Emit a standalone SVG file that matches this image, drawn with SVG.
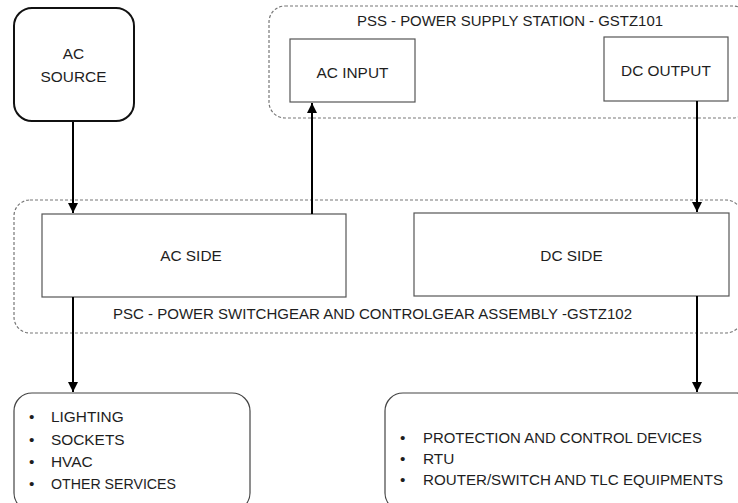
<svg xmlns="http://www.w3.org/2000/svg" width="738" height="503" viewBox="0 0 738 503">
<style>
text{font-family:"Liberation Sans",Arial,sans-serif;font-size:15.4px;fill:#1e1e1e}
.c{text-anchor:middle}
.box{fill:#fff;stroke:#555;stroke-width:1.2}
.cont{fill:none;stroke:#777;stroke-width:1.2;stroke-dasharray:3 2}
.rbox{fill:#fff;stroke:#444;stroke-width:1.2}
.wire{stroke:#000;stroke-width:2;fill:none}
</style>
<defs>
<marker id="ah" viewBox="0 0 10 10" refX="10" refY="5" markerWidth="5" markerHeight="5" orient="auto" markerUnits="strokeWidth">
<path d="M0,0 L10,5 L0,10 z" fill="#000"/>
</marker>
</defs>
<rect width="738" height="503" fill="#fff"/>
<g id="pss">
<rect class="cont" x="269" y="6" width="480" height="112" rx="16"/>
<text class="c" x="510" y="26" textLength="306" lengthAdjust="spacingAndGlyphs">PSS - POWER SUPPLY STATION - GSTZ101</text>
</g>
<g id="psc">
<rect class="cont" x="14" y="200" width="728" height="133" rx="16"/>
<text class="c" x="372.5" y="319" textLength="519" lengthAdjust="spacingAndGlyphs">PSC - POWER SWITCHGEAR AND CONTROLGEAR ASSEMBLY -GSTZ102</text>
</g>
<g id="ac-source">
<rect x="14" y="8" width="120" height="113" rx="18" fill="#fff" stroke="#111" stroke-width="2"/>
<text class="c" x="73.5" y="59">AC</text>
<text class="c" x="73.5" y="82">SOURCE</text>
</g>
<g id="ac-input">
<rect class="box" x="290" y="39" width="125" height="63"/>
<text class="c" x="352.5" y="78">AC INPUT</text>
</g>
<g id="dc-output">
<rect class="box" x="604" y="37" width="124" height="64"/>
<text class="c" x="666" y="76">DC OUTPUT</text>
</g>
<g id="ac-side">
<rect class="box" x="42" y="214" width="304" height="83"/>
<text class="c" x="191" y="261">AC SIDE</text>
</g>
<g id="dc-side">
<rect class="box" x="414" y="213" width="315" height="83"/>
<text class="c" x="571.5" y="261">DC SIDE</text>
</g>
<g id="ac-loads">
<rect class="rbox" x="14" y="393" width="236" height="118" rx="18"/>
<text x="29" y="422">•</text><text x="51" y="422">LIGHTING</text>
<text x="29" y="444.5">•</text><text x="51" y="444.5">SOCKETS</text>
<text x="29" y="467">•</text><text x="51" y="467">HVAC</text>
<text x="29" y="489">•</text><text x="51" y="489" textLength="125" lengthAdjust="spacingAndGlyphs">OTHER SERVICES</text>
</g>
<g id="dc-loads">
<rect class="rbox" x="385" y="393" width="370" height="118" rx="18"/>
<text x="400" y="443">•</text><text x="423" y="443" textLength="279" lengthAdjust="spacingAndGlyphs">PROTECTION AND CONTROL DEVICES</text>
<text x="400" y="464">•</text><text x="423" y="464">RTU</text>
<text x="400" y="485">•</text><text x="423" y="485" textLength="300" lengthAdjust="spacingAndGlyphs">ROUTER/SWITCH AND TLC EQUIPMENTS</text>
</g>
<g id="connectors">
<line class="wire" x1="73" y1="122" x2="73" y2="213" marker-end="url(#ah)"/>
<line class="wire" x1="312" y1="214" x2="312" y2="103" marker-end="url(#ah)"/>
<line class="wire" x1="697" y1="101" x2="697" y2="212" marker-end="url(#ah)"/>
<line class="wire" x1="73" y1="297" x2="73" y2="392" marker-end="url(#ah)"/>
<line class="wire" x1="697" y1="296" x2="697" y2="392" marker-end="url(#ah)"/>
</g>
</svg>
